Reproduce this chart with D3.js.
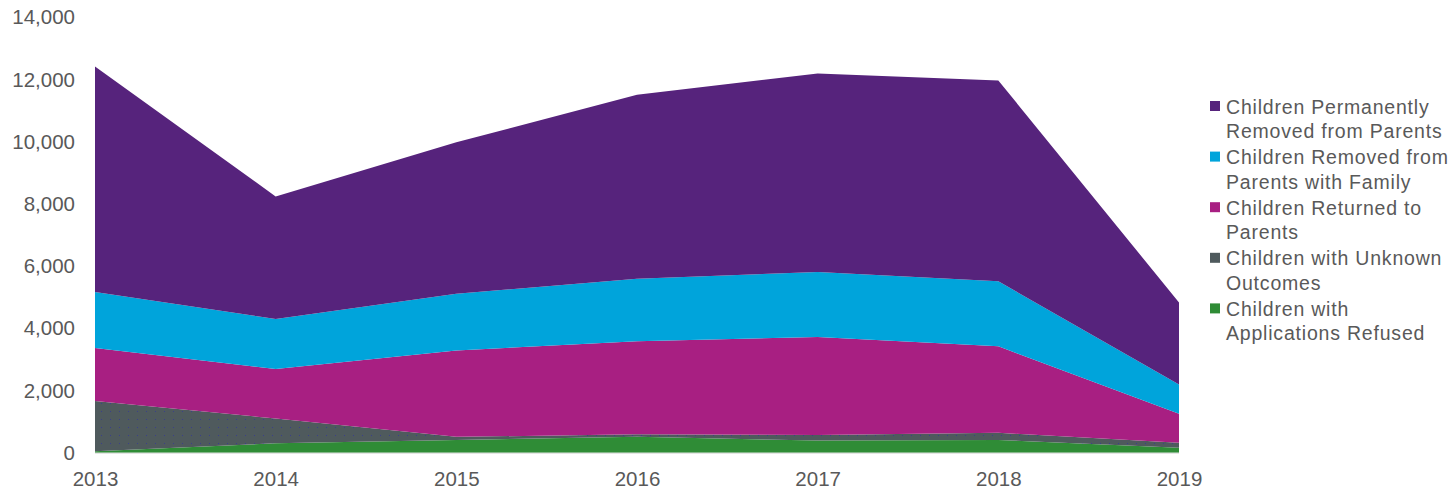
<!DOCTYPE html>
<html>
<head>
<meta charset="utf-8">
<script src="https://cdn.jsdelivr.net/npm/d3@7"></script>
<style>
	body { margin: 0; background: #ffffff; }
	text { font-family: "Liberation Sans", Arial, sans-serif; fill: #595959; }
</style>
</head>
<body>
<div id="svg"></div>
<script>
var width = 1455;
var height = 491;

// data
var years = ['2013', '2014', '2015', '2016', '2017', '2018', '2019'];
var refused = [50, 300, 410, 510, 390, 410, 160];
var unknown = [1610, 800, 100, 80, 180, 230, 160];
var returned = [1710, 1590, 2780, 2990, 3150, 2780, 930];
var with_family = [1800, 1610, 1820, 2010, 2090, 2090, 940];
var permanent = [7250, 3940, 4870, 5920, 6380, 6460, 2640];

var y_ticks = [0, 2000, 4000, 6000, 8000, 10000, 12000, 14000];

var keys = ['refused', 'unknown', 'returned', 'with_family', 'permanent'];
var labels = {
	permanent: ['Children Permanently', 'Removed from Parents'],
	with_family: ['Children Removed from', 'Parents with Family'],
	returned: ['Children Returned to', 'Parents'],
	unknown: ['Children with Unknown', 'Outcomes'],
	refused: ['Children with', 'Applications Refused']
};
var colours = {
	permanent: '#56237c',
	with_family: '#00a4db',
	returned: '#a81f82',
	unknown: '#4f5a5d',
	refused: '#2f8c36'
};

var canvas = d3.select('#svg')
	.append('svg')
	.attr('width', width)
	.attr('height', height);

function main()
{ // main()
	render();
}// End main

function build_table()
{ // one object per year for d3.stack
	return years.map((yr, i) => {
		return {
			year: yr,
			refused: refused[i],
			unknown: unknown[i],
			returned: returned[i],
			with_family: with_family[i],
			permanent: permanent[i]
		};
	});
}// End build_table

function render()
{
	var table = build_table();

	var x = d3.scalePoint()
		.domain(years)
		.range([95, 1179]);

	var y = d3.scaleLinear()
		.domain([0, 14000])
		.range([452.7, 17.3]);

	// dotted fill for the unknown outcomes layer
	var defs = canvas.append('defs');
	var pat = defs.append('pattern')
		.attr('id', 'dots')
		.attr('patternUnits', 'userSpaceOnUse')
		.attr('width', 9)
		.attr('height', 8);
	pat.append('rect')
		.attr('width', 9)
		.attr('height', 8)
		.attr('fill', colours.unknown);
	pat.append('rect')
		.attr('x', 2).attr('y', 3)
		.attr('width', 1).attr('height', 1)
		.attr('fill', '#3a3f8a');

	var stack = d3.stack().keys(keys);

	var area = d3.area()
		.x((d) => x(d.data.year))
		.y0((d) => y(d[0]))
		.y1((d) => y(d[1]));

	var group = canvas.append('g');

	group.selectAll('.area')
		.data(stack(table))
		.enter().append('path')
			.attr('class', 'area')
			.attr('fill', (d) => d.key == 'unknown' ? 'url(#dots)' : colours[d.key])
			.attr('d', area);

	// baseline
	group.append('line')
		.attr('x1', x(years[0]))
		.attr('x2', x(years[years.length - 1]))
		.attr('y1', y(0) + 0.5)
		.attr('y2', y(0) + 0.5)
		.attr('stroke', '#d9d9d9')
		.attr('stroke-width', 1);

	// y axis labels
	var y_axis = canvas.append('g')
		.attr('transform', 'translate(83,0)')
		.call(d3.axisLeft(y).tickValues(y_ticks).tickSize(0).tickPadding(8).tickFormat(d3.format(',')));
	y_axis.select('.domain').remove();
	y_axis.selectAll('text')
		.attr('fill', '#595959')
		.style('font-size', '20.5px');

	// x axis labels
	var x_axis = canvas.append('g')
		.attr('transform', 'translate(0,' + 463 + ')')
		.call(d3.axisBottom(x).tickSize(0).tickPadding(8));
	x_axis.select('.domain').remove();
	x_axis.selectAll('text')
		.attr('fill', '#595959')
		.style('font-size', '20.5px');

	draw_legend();
}// End render

function draw_legend()
{ // legend, top entry first
	var order = keys.slice().reverse();
	var legend = canvas.append('g')
		.attr('transform', 'translate(1210,0)');

	var item = legend.selectAll('.item')
		.data(order)
		.enter().append('g')
			.attr('class', 'item')
			.attr('transform', (d, i) => 'translate(0,' + (106.5 + i * 50.6) + ')');

	item.append('rect')
		.attr('x', 0)
		.attr('y', -5.5)
		.attr('width', 10)
		.attr('height', 10)
		.attr('fill', (d) => colours[d]);

	item.append('text')
		.attr('x', 16)
		.attr('y', 7)
		.style('font-size', '19.5px')
		.style('letter-spacing', '0.8px')
		.text((d) => labels[d][0]);

	item.append('text')
		.attr('x', 16)
		.attr('y', 31.5)
		.style('font-size', '19.5px')
		.style('letter-spacing', '0.8px')
		.text((d) => labels[d][1]);
}// End draw_legend

main();
</script>
</body>
</html>
